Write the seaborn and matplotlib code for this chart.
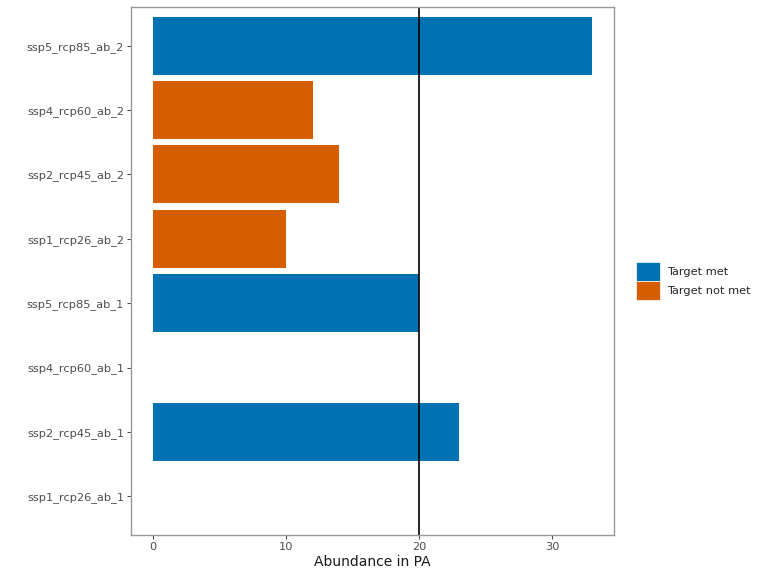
import pandas as pd
import seaborn as sns
import matplotlib.pyplot as plt
from matplotlib.patches import Patch

# categories bottom -> top
scenarios = ['ssp1_rcp26_ab_1', 'ssp2_rcp45_ab_1', 'ssp4_rcp60_ab_1', 'ssp5_rcp85_ab_1',
             'ssp1_rcp26_ab_2', 'ssp2_rcp45_ab_2', 'ssp4_rcp60_ab_2', 'ssp5_rcp85_ab_2']
abundance = [0, 23, 0, 20, 10, 14, 12, 33]
status = ['Target not met', 'Target met', 'Target not met', 'Target met',
          'Target not met', 'Target not met', 'Target not met', 'Target met']
target = 20
statuses = ['Target met', 'Target not met']
colors = ['#0072B2', '#D55E00']

df = pd.DataFrame({'scenario': scenarios, 'abundance': abundance, 'status': status})

sns.set_theme(style="white")
plt.rcParams['font.family'] = ['DejaVu Sans']

fig = plt.figure(figsize=(7.68, 5.76), dpi=100)
ax = fig.add_axes([0.1706, 0.0712, 0.6289, 0.9166])

order = scenarios[::-1]  # top to bottom for seaborn
sns.barplot(data=df, y='scenario', x='abundance', hue='status', order=order,
            hue_order=statuses, palette=colors, dodge=False, width=0.9,
            orient='h', saturation=1, legend=False, linewidth=0, ax=ax)

ax.axvline(target, color='black', linewidth=1.2)

ax.set_xlim(-1.65, 34.65)
ax.set_ylim(len(scenarios) - 0.4, -0.6)
ax.set_xticks([0, 10, 20, 30])
ax.set_xlabel('Abundance in PA', fontsize=10, color='#1a1a1a', labelpad=2)
ax.set_ylabel('')
ax.tick_params(axis='both', labelsize=8.2, colors='#4D4D4D', length=3, width=0.8,
               bottom=True, left=True, pad=2)
for s in ax.spines.values():
    s.set_color('#999999')
    s.set_linewidth(1.0)

handles = [Patch(facecolor=c, edgecolor='white', linewidth=0.5, label=l)
           for c, l in zip(colors, statuses)]
fig.legend(handles=handles, loc='center left', bbox_to_anchor=(0.815, 0.512),
           frameon=False, fontsize=8.2, handlelength=2.1, handleheight=2.2,
           handletextpad=0.6, labelspacing=0.05)

plt.savefig('out.png', dpi=100)
